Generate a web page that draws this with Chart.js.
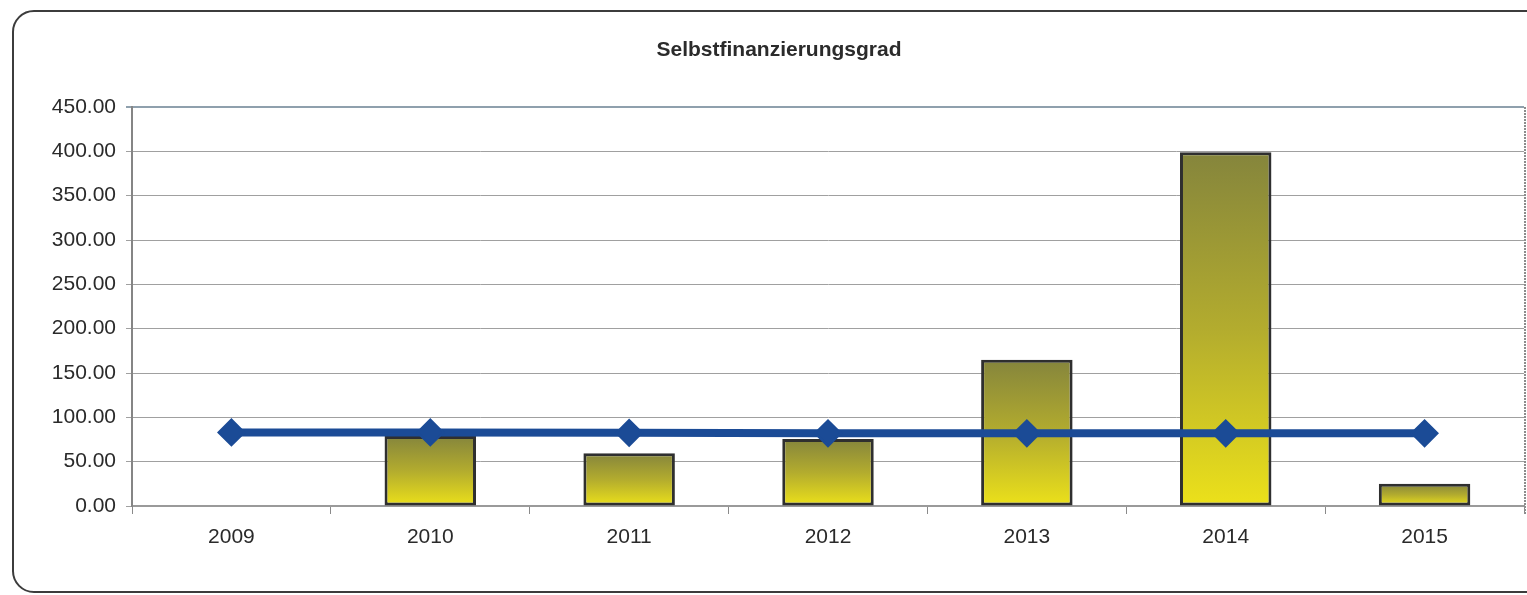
<!DOCTYPE html>
<html>
<head>
<meta charset="utf-8">
<script src="https://cdn.jsdelivr.net/npm/chart.js@4/dist/chart.umd.min.js"></script>
<style>
  html, body { margin: 0; padding: 0; background: #ffffff; overflow: hidden; }
  #wrap { position: relative; width: 1527px; height: 595px; }
  #frame {
    position: absolute; left: 12px; top: 10px; width: 1560px; height: 583px;
    border: 2px solid #3c3c3c; border-radius: 22px; box-sizing: border-box;
  }
  canvas { position: absolute; left: 0; top: 0; }
</style>
</head>
<body>
<div id="wrap">
  <div id="frame"></div>
  <canvas id="c" width="1527" height="595"></canvas>
</div>
<script>
const chartTitle = 'Selbstfinanzierungsgrad';
const categories = ['2009', '2010', '2011', '2012', '2013', '2014', '2015'];
const barValues = [0, 79, 59.5, 75.5, 165, 399, 25];
const lineValues = [83, 83, 82.5, 82, 82, 82, 82];
const yMin = 0, yMax = 450, yStep = 50;

const FONT = "'Liberation Sans', Arial, sans-serif";

function barGradient(ctx) {
  const chart = ctx.chart;
  const y = chart.scales && chart.scales.y;
  if (!y || ctx.raw === undefined || !chart.chartArea) return '#c8bd28';
  const top = y.getPixelForValue(ctx.raw);
  const base = y.getPixelForValue(0);
  if (!isFinite(top) || Math.abs(base - top) < 1) return '#c8bd28';
  const g = chart.ctx.createLinearGradient(0, top, 0, base);
  g.addColorStop(0, '#85853c');
  g.addColorStop(0.5, '#b3ac2e');
  g.addColorStop(1, '#ece11a');
  return g;
}

const decoPlugin = {
  id: 'deco',
  afterDraw(chart) {
    const c = chart.ctx, a = chart.chartArea;
    c.save();
    // right edge of plot area
    c.strokeStyle = '#8c8c8c';
    c.lineWidth = 2;
    c.setLineDash([2, 1]);
    c.beginPath();
    c.moveTo(a.right + 1, a.top);
    c.lineTo(a.right + 1, a.bottom + 8);
    c.stroke();
    c.restore();
    // title
    c.save();
    c.fillStyle = '#2b2b2b';
    c.font = "bold 21px " + FONT;
    c.textAlign = 'center';
    c.textBaseline = 'middle';
    c.fillText(chartTitle, 779, 50);
    c.restore();
  }
};

new Chart(document.getElementById('c'), {
  data: {
    labels: categories,
    datasets: [
      {
        type: 'line',
        label: 'Durchschnitt',
        data: lineValues,
        order: 0,
        borderColor: '#1b4b96',
        backgroundColor: '#1b4b96',
        borderWidth: 8,
        pointStyle: 'rectRot',
        pointRadius: 13,
        pointBorderWidth: 2,
        pointBorderColor: '#1b4b96',
        pointBackgroundColor: '#1b4b96',
        tension: 0,
        fill: false
      },
      {
        type: 'bar',
        label: chartTitle,
        data: barValues,
        order: 1,
        backgroundColor: barGradient,
        borderColor: '#2f2f2f',
        borderWidth: 3,
        borderSkipped: false,
        categoryPercentage: 1.0,
        barPercentage: 0.46
      }
    ]
  },
  options: {
    responsive: false,
    animation: false,
    devicePixelRatio: 1,
    layout: { autoPadding: false, padding: { top: 107, left: 0, right: 3, bottom: 0 } },
    plugins: {
      legend: { display: false },
      title: { display: false },
      tooltip: { enabled: false }
    },
    scales: {
      x: {
        offset: true,
        grid: {
          offset: true,
          drawOnChartArea: false,
          drawTicks: true,
          tickLength: 8,
          color: '#8a8a8a',
          lineWidth: 1
        },
        border: { color: '#9a9a9a', width: 2 },
        ticks: {
          color: '#2a2a2a',
          font: { family: FONT, size: 21 },
          padding: 11,
          maxRotation: 0
        },
        afterFit(scale) {
          scale.height = 89;
          scale.paddingLeft = 0;
          scale.paddingRight = 0;
        }
      },
      y: {
        min: yMin,
        max: yMax,
        grid: {
          color: (ctx) => (ctx.tick && ctx.tick.value === yMax) ? '#8fa0ad' : '#a0a0a0',
          lineWidth: (ctx) => (ctx.tick && ctx.tick.value === yMax) ? 2 : 1,
          tickLength: 6,
          drawTicks: true
        },
        border: { color: '#858585', width: 2 },
        ticks: {
          stepSize: yStep,
          color: '#2a2a2a',
          font: { family: FONT, size: 21 },
          padding: 10,
          callback: (v) => Number(v).toFixed(2)
        },
        afterFit(scale) {
          scale.width = 132;
        }
      }
    }
  },
  plugins: [decoPlugin]
});
</script>
</body>
</html>
